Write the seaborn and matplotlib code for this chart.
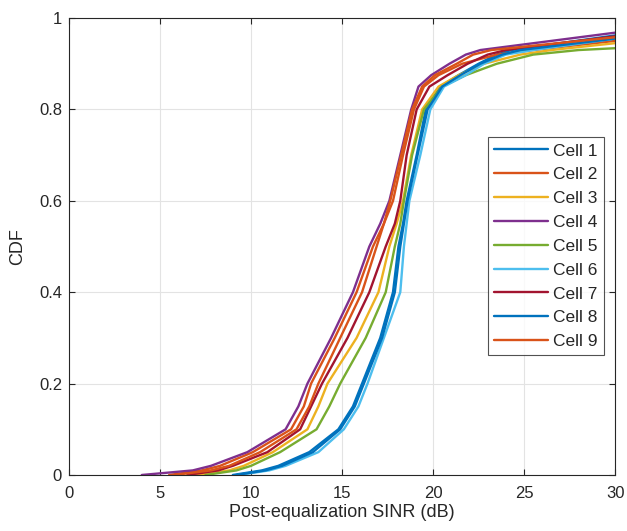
import numpy as np
import pandas as pd
import seaborn as sns
import matplotlib
matplotlib.use('Agg')
import matplotlib.pyplot as plt

# CDF levels shared by all cells, SINR (dB) read at each level
cdf_levels = [0, 0.01, 0.02, 0.05, 0.1, 0.15, 0.2, 0.3, 0.4, 0.5, 0.55,
              0.6, 0.7, 0.8, 0.85, 0.875, 0.9, 0.92, 0.93]

cell1 = [9.0, 10.6, 11.5, 13.2, 14.8, 15.6, 16.1, 17.1, 17.8, 18.1, 18.35, 18.55, 19.1, 19.6, 20.4, 21.4, 22.5, 23.5, 24.3]
cell2 = [5.5, 7.3, 8.3, 10.1, 12.2, 12.9, 13.3, 14.6, 15.8, 16.7, 17.3, 17.8, 18.35, 18.95, 19.5, 20.3, 21.6, 23.5, 25.5]
cell3 = [7.0, 8.8, 9.6, 11.2, 13.1, 13.7, 14.2, 15.8, 17.0, 17.6, 18.0, 18.35, 18.8, 19.4, 20.3, 21.4, 22.8, 24.8, 26.5]
cell4 = [4.0, 6.8, 7.8, 9.8, 11.9, 12.6, 13.1, 14.4, 15.6, 16.5, 17.1, 17.6, 18.2, 18.8, 19.2, 19.9, 20.9, 21.8, 22.6]
cell5 = [7.5, 9.2, 10.0, 11.6, 13.6, 14.3, 14.9, 16.3, 17.4, 17.9, 18.2, 18.4, 18.85, 19.5, 20.5, 21.8, 23.5, 25.5, 28.0]
cell6 = [9.3, 11.0, 11.9, 13.7, 15.1, 15.9, 16.4, 17.3, 18.2, 18.4, 18.55, 18.7, 19.3, 19.85, 20.6, 21.8, 22.8, 24.0, 25.5]
cell7 = [6.5, 8.2, 9.0, 10.9, 12.7, 13.3, 13.9, 15.3, 16.5, 17.4, 17.9, 18.2, 18.55, 19.1, 19.8, 20.8, 21.9, 23.0, 24.0]
cell8 = [9.2, 10.8, 11.7, 13.4, 14.9, 15.7, 16.2, 17.2, 17.9, 18.2, 18.4, 18.6, 19.15, 19.7, 20.5, 21.5, 22.6, 23.8, 24.8]
cell9 = [5.8, 7.8, 8.8, 10.5, 12.5, 13.2, 13.7, 14.9, 16.1, 16.9, 17.3, 17.65, 18.25, 18.85, 19.4, 20.1, 21.3, 22.2, 23.2]

# CDF value reached at the right edge (30 dB)
cdf_at_30 = [0.962, 0.95, 0.945, 0.968, 0.934, 0.955, 0.96, 0.955, 0.958]

cell_names = ['Cell %d' % i for i in range(1, 10)]
cells = [cell1, cell2, cell3, cell4, cell5, cell6, cell7, cell8, cell9]

# MATLAB default color order
colors = ['#0072BD', '#D95319', '#EDB120', '#7E2F8E', '#77AC30',
          '#4DBEEE', '#A2142F', '#0072BD', '#D95319']

rows = []
for name, sinr, last in zip(cell_names, cells, cdf_at_30):
    for s, c in zip(sinr + [30.0], cdf_levels + [last]):
        rows.append({'cell': name, 'sinr': s, 'cdf': c})
df = pd.DataFrame(rows)

sns.set_style('white')
plt.rcParams['font.family'] = ['Liberation Sans', 'DejaVu Sans']

fig = plt.figure(figsize=(6.27, 5.31), dpi=100)
ax = fig.add_axes([0.110, 0.1055, 0.871, 0.8605])

sns.lineplot(data=df, x='sinr', y='cdf', hue='cell', palette=colors,
             sort=False, estimator=None, linewidth=1.7, ax=ax)

ax.set_xlim(0, 30)
ax.set_ylim(0, 1)
ax.set_xticks(range(0, 31, 5))
ax.set_yticks([0, 0.2, 0.4, 0.6, 0.8, 1])
ax.set_yticklabels(['0', '0.2', '0.4', '0.6', '0.8', '1'])
ax.grid(True, color='#e3e3e3', linewidth=0.8)
ax.set_axisbelow(True)
for sp in ax.spines.values():
    sp.set_color('#262626')
    sp.set_linewidth(0.8)
ax.tick_params(direction='in', length=4, colors='#262626', labelsize=12,
               top=True, right=True, bottom=True, left=True, width=0.8)
ax.tick_params(axis='x', pad=8)
ax.tick_params(axis='y', pad=5)
ax.set_xlabel('Post-equalization SINR (dB)', fontsize=13, color='#262626', labelpad=2)
ax.set_ylabel('CDF', fontsize=13, color='#262626', labelpad=9)

leg = ax.legend(loc='upper right', bbox_to_anchor=(0.9795, 0.739), fontsize=12.5,
                frameon=True, fancybox=False, handlelength=3.1,
                borderpad=0.35, labelspacing=0.5, handletextpad=0.3,
                borderaxespad=0)
leg.get_frame().set_edgecolor('#262626')
leg.get_frame().set_linewidth(0.8)

fig.savefig('out.png', dpi=100)
